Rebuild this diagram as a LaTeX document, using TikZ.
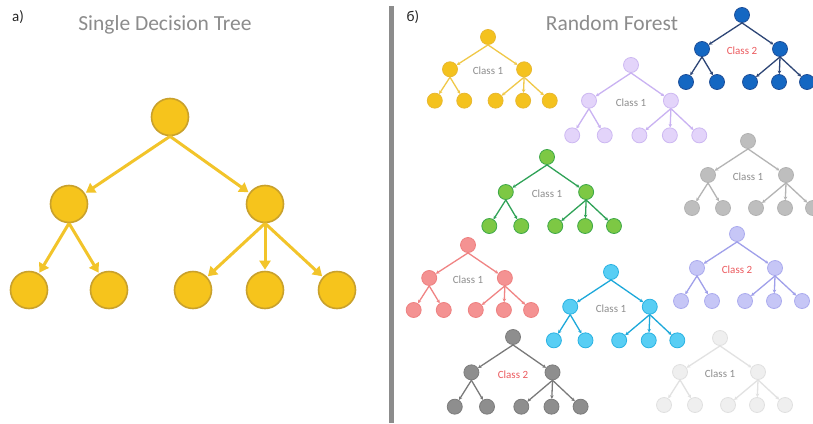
\documentclass[tikz,border=0pt]{standalone}
\usepackage{fontspec}
\setmainfont{Carlito}
\usetikzlibrary{arrows.meta}
\definecolor{bigfill}{HTML}{F6C41C}
\definecolor{bigline}{HTML}{C9A12C}
\definecolor{bigedge}{HTML}{F2C42A}
\definecolor{yelfill}{HTML}{F4C21E}
\definecolor{yelline}{HTML}{E8B830}
\definecolor{yeledge}{HTML}{F0C848}
\definecolor{blufill}{HTML}{1467C2}
\definecolor{bluline}{HTML}{1E4E98}
\definecolor{bluedge}{HTML}{2E4676}
\definecolor{purfill}{HTML}{E3D4FA}
\definecolor{purline}{HTML}{CDB8F2}
\definecolor{puredge}{HTML}{C9B2F2}
\definecolor{grnfill}{HTML}{7DC844}
\definecolor{grnline}{HTML}{3CA848}
\definecolor{grnedge}{HTML}{2FA257}
\definecolor{gryfill}{HTML}{BEBEBE}
\definecolor{gryline}{HTML}{B2B2B2}
\definecolor{gryedge}{HTML}{B4B4B4}
\definecolor{perfill}{HTML}{C6C6F6}
\definecolor{perline}{HTML}{ABABEE}
\definecolor{peredge}{HTML}{A0A0EA}
\definecolor{redfill}{HTML}{F49292}
\definecolor{redline}{HTML}{EE8080}
\definecolor{rededge}{HTML}{F08484}
\definecolor{cynfill}{HTML}{58CEF4}
\definecolor{cynline}{HTML}{2AB2E2}
\definecolor{cynedge}{HTML}{1CA8DA}
\definecolor{dgrfill}{HTML}{8E8E8E}
\definecolor{dgrline}{HTML}{7C7C7C}
\definecolor{dgredge}{HTML}{7A7A7A}
\definecolor{lgrfill}{HTML}{EFEFEF}
\definecolor{lgrline}{HTML}{E0E0E0}
\definecolor{lgredge}{HTML}{E2E2E2}
\definecolor{titlegray}{HTML}{8C8C8C}
\definecolor{labgray}{HTML}{8E8E8E}
\definecolor{labred}{HTML}{EC5A5E}
\tikzset{
  bignode/.style={circle, minimum size=37pt, inner sep=0pt, fill=bigfill, draw=bigline, line width=1.6pt},
  bigarrow/.style={draw=bigedge, line width=3pt, -{Triangle[length=9pt,width=11pt]}, shorten >=1pt},
  sn/.style={circle, minimum size=15pt, inner sep=0pt, fill=#1fill, draw=#1line, line width=0.8pt},
  se/.style={draw=#1edge, line width=1.3pt, -{Stealth[length=3.5pt,width=3.5pt]}},
  lab/.style={font=\fontsize{11}{13}\selectfont, inner sep=0pt},
  title/.style={font=\fontsize{21.5}{25}\selectfont, text=titlegray, inner sep=0pt},
  panel/.style={font=\fontsize{15}{17}\selectfont, text=black!85, inner sep=0pt}
}
\newcommand\ftree[7]{%
  \begin{scope}[shift={(#2,#3)}, scale=#4]
    \node[sn=#5] (#1r) at (0,0) {};
    \node[sn=#5] (#1a) at (-40,34) {};
    \node[sn=#5] (#1b) at (38,34) {};
    \node[sn=#5] (#1l1) at (-56,67) {};
    \node[sn=#5] (#1l2) at (-25,67) {};
    \node[sn=#5] (#1l3) at (8,67) {};
    \node[sn=#5] (#1l4) at (37,67) {};
    \node[sn=#5] (#1l5) at (65,67) {};
    \node[lab, text=#7] (#1t) at (0,36) {#6};
    \draw[se=#5] (#1r.south) -- (#1a);
    \draw[se=#5] (#1r.south) -- (#1b);
    \draw[se=#5] (#1a.south) -- (#1l1);
    \draw[se=#5] (#1a.south) -- (#1l2);
    \draw[se=#5] (#1b.south) -- (#1l3);
    \draw[se=#5] (#1b.south) -- (#1l4);
    \draw[se=#5] (#1b.south) -- (#1l5);
  \end{scope}}
\begin{document}
\begin{tikzpicture}[x=1pt,y=-1pt]
\useasboundingbox[fill=white] (0,0) rectangle (813,423);
% panel a
\node[panel] (pa) at (18,17) {a)};
\node[title] (ta) at (165,25) {Single Decision Tree};
\node[bignode] (R) at (170,117) {};
\node[bignode] (A) at (69,204) {};
\node[bignode] (B) at (265,204) {};
\node[bignode] (L1) at (29,290) {};
\node[bignode] (L2) at (109,290) {};
\node[bignode] (L3) at (193,290) {};
\node[bignode] (L4) at (265,290) {};
\node[bignode] (L5) at (337,290) {};
\draw[bigarrow] (R.south) -- (A);
\draw[bigarrow] (R.south) -- (B);
\draw[bigarrow] (A.south) -- (L1);
\draw[bigarrow] (A.south) -- (L2);
\draw[bigarrow] (B.south) -- (L3);
\draw[bigarrow] (B.south) -- (L4);
\draw[bigarrow] (B.south) -- (L5);
% divider
\draw[line width=5.5pt, color=black!45] (391.5,6) -- (391.5,423);
% panel b
\node[panel] (pb) at (413,17) {б)};
\node[title] (tb) at (612,23) {Random Forest};
\ftree{yel}{488}{37}{0.95}{yel}{Class 1}{labgray}
\ftree{blu}{742}{15}{1.0}{blu}{Class 2}{labred}
\ftree{pur}{631}{65}{1.05}{pur}{Class 1}{labgray}
\ftree{grn}{547}{157}{1.03}{grn}{Class 1}{labgray}
\ftree{gry}{748}{141}{1.0}{gry}{Class 1}{labgray}
\ftree{per}{737}{234}{1.0}{per}{Class 2}{labred}
\ftree{red}{468}{245}{0.97}{red}{Class 1}{labgray}
\ftree{cyn}{611}{272}{1.02}{cyn}{Class 1}{labgray}
\ftree{dgr}{513}{337}{1.04}{dgr}{Class 2}{labred}
\ftree{lgr}{720}{338}{1.0}{lgr}{Class 1}{labgray}
\end{tikzpicture}
\end{document}
